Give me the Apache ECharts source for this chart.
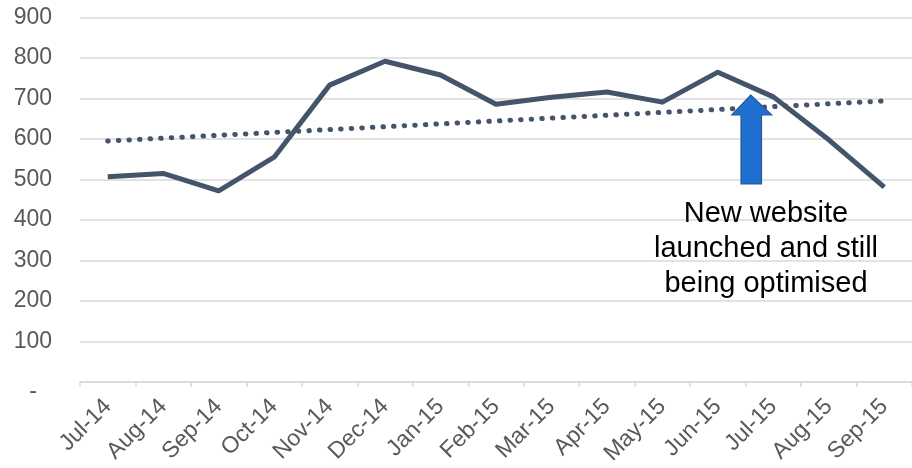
<!DOCTYPE html>
<html>
<head>
<meta charset="utf-8">
<script src="https://cdn.jsdelivr.net/npm/echarts@6/dist/echarts.min.js"></script>
<style>
  html, body { margin: 0; padding: 0; background: #fff; }
  #chart { width: 912px; height: 468px; }
</style>
</head>
<body>
<div id="chart"></div>
<script>
// Monthly values
const months = ['Jul-14', 'Aug-14', 'Sep-14', 'Oct-14', 'Nov-14', 'Dec-14', 'Jan-15',
  'Feb-15', 'Mar-15', 'Apr-15', 'May-15', 'Jun-15', 'Jul-15', 'Aug-15', 'Sep-15'];
const visits = [507, 515, 472, 555, 733, 792, 758, 686, 703, 716, 691, 765, 704, 598, 481];

// Trend line end points (first and last month)
const trendMonths = ['Jul-14', 'Sep-15'];
const trendValues = [595, 694];

const yTicks = { min: 0, max: 900, interval: 100 };

const FONT = '"Liberation Sans", Arial, sans-serif';
const LINE_COLOR = '#44546A';

const chart = echarts.init(document.getElementById('chart'));

const option = {
  animation: false,
  grid: {
    left: 80,
    top: 17.5,
    width: 839.5,
    bottom: 86,
    containLabel: false
  },
  xAxis: {
    type: 'category',
    data: months,
    boundaryGap: true,
    axisLine: { lineStyle: { color: '#d9d9d9', width: 1.5 } },
    axisTick: { show: true, length: 5, lineStyle: { color: '#d9d9d9', width: 1.5 } },
    axisLabel: {
      rotate: 45,
      interval: 0,
      margin: 21,
      color: '#595959',
      fontFamily: FONT,
      fontSize: 23
    }
  },
  yAxis: {
    type: 'value',
    min: yTicks.min,
    max: yTicks.max,
    interval: yTicks.interval,
    axisLine: { show: false },
    axisTick: { show: false },
    splitLine: { lineStyle: { color: '#d9d9d9', width: 1.5 } },
    axisLabel: {
      margin: 28,
      color: '#595959',
      fontFamily: FONT,
      fontSize: 23,
      formatter: function (v) {
        return v === 0 ? '{dash|-}' : String(v);
      },
      rich: {
        dash: {
          color: '#595959',
          fontFamily: FONT,
          fontSize: 23,
          padding: [20, 15, 0, 0]
        }
      }
    }
  },
  series: [
    {
      type: 'line',
      data: visits,
      symbol: 'none',
      lineStyle: { color: LINE_COLOR, width: 5, join: 'round' },
      z: 3
    },
    {
      type: 'line',
      data: trendMonths.map((m, i) => [m, trendValues[i]]),
      symbol: 'none',
      lineStyle: {
        color: LINE_COLOR,
        width: 5,
        type: [0.5, 10.1],
        cap: 'round'
      },
      z: 2
    }
  ],
  graphic: [
    {
      type: 'polygon',
      z: 10,
      shape: {
        points: [
          [750.7, 95], [771.7, 115], [761.5, 115], [761.5, 184],
          [741, 184], [741, 115], [731.7, 115]
        ]
      },
      style: {
        fill: '#1f6fd0',
        stroke: '#2f5597',
        lineWidth: 1.2
      }
    },
    {
      type: 'text',
      z: 10,
      x: 766,
      y: 196,
      style: {
        text: 'New website\nlaunched and still\nbeing optimised',
        fill: '#000',
        fontFamily: FONT,
        fontSize: 29,
        lineHeight: 35,
        align: 'center',
        verticalAlign: 'top'
      }
    }
  ]
};

chart.setOption(option);

window.addEventListener('resize', () => chart.resize());
</script>
</body>
</html>
